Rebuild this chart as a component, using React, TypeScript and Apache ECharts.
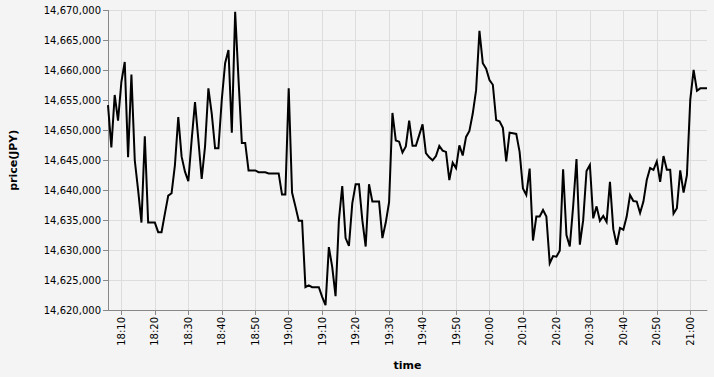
import React, { useEffect, useRef } from "react";
import * as echarts from "echarts";

// Time axis: 1-minute steps starting 18:06
const startTime = "18:06";
const pointCount = 180;

// Prices (JPY), one per minute from 18:06 to 21:05
const prices: number[] = [
  14654200, 14647150, 14655900, 14651600, 14658100, 14661400, 14645500, 14659300, 14645000, 14640000,
  14634600, 14649000, 14634600, 14634600, 14634600, 14633000, 14633000, 14636100, 14639100, 14639500,
  14644200, 14652200, 14645600, 14643100, 14641500, 14648400, 14654700, 14648400, 14641900, 14647300,
  14657000, 14652800, 14647000, 14647000, 14655100, 14661200, 14663400, 14649600, 14669800, 14658500,
  14647900, 14647900, 14643300, 14643300, 14643300, 14643000, 14643000, 14643000, 14642800, 14642800,
  14642800, 14642800, 14639300, 14639300, 14657000, 14639600, 14637300, 14634900, 14634900, 14623800,
  14624100, 14623800, 14623800, 14623800, 14622200, 14620800, 14630500, 14627200, 14622300, 14635000,
  14640700, 14632000, 14630700, 14637800, 14641000, 14641000, 14635000, 14630600, 14641000, 14638100,
  14638100, 14638100, 14632000, 14634600, 14638000, 14652900, 14648300, 14648100, 14646300, 14647300,
  14651600, 14647400, 14647400, 14649200, 14651000, 14646200, 14645500, 14645000, 14645700, 14647400,
  14646600, 14646400, 14641700, 14644600, 14643700, 14647500, 14645800, 14648900, 14649900, 14652800,
  14656700, 14666600, 14661200, 14660300, 14658400, 14657600, 14651700, 14651500, 14650400, 14644800,
  14649600, 14649500, 14649400, 14646400, 14640300, 14639200, 14643600, 14631600, 14635600, 14635600,
  14636700, 14635600, 14627800, 14629000, 14628900, 14629900, 14643500, 14632500, 14630600, 14637300,
  14645200, 14630900, 14635000, 14643200, 14644200, 14635300, 14637300, 14634900, 14635700, 14634700,
  14641400, 14633500, 14630900, 14633700, 14633400, 14635600, 14639200, 14638200, 14638100, 14636200,
  14638100, 14641700, 14643700, 14643400, 14644800, 14641400, 14645700, 14643400, 14643400, 14636100,
  14637000, 14643300, 14639600, 14642500, 14655100, 14660100, 14656600, 14657000, 14657000, 14657000,
];

const yMin = 14620000;
const yMax = 14670000;
const yStep = 5000;

function buildTimes(start: string, n: number): string[] {
  const [h, m] = start.split(":").map(Number);
  const base = h * 60 + m;
  const out: string[] = [];
  for (let i = 0; i < n; i++) {
    const t = base + i;
    const hh = Math.floor(t / 60);
    const mm = t % 60;
    out.push(`${hh}:${mm < 10 ? "0" + mm : mm}`);
  }
  return out;
}

const times = buildTimes(startTime, pointCount);

export default function App() {
  const ref = useRef<HTMLDivElement>(null);
  useEffect(() => {
    if (!ref.current) return;
    const chart = echarts.init(ref.current, undefined, { renderer: "svg" });
    const font = "DejaVu Sans";
    const onTen = (_i: number, v: string) => v.endsWith("0");
    chart.setOption({
      animation: false,
      backgroundColor: "#f4f4f4",
      grid: { left: 107, right: 7, top: 10.5, bottom: 67 },
      xAxis: {
        type: "category",
        data: times,
        boundaryGap: false,
        name: "time",
        nameLocation: "middle",
        nameGap: 50,
        nameTextStyle: { fontFamily: font, fontSize: 11, fontWeight: "bold", color: "#000" },
        axisLine: { show: true, lineStyle: { color: "#888", width: 1 } },
        axisTick: { show: true, interval: onTen, length: 5, lineStyle: { color: "#888" } },
        axisLabel: {
          interval: onTen,
          rotate: 90,
          margin: 7,
          fontFamily: font,
          fontSize: 10,
          color: "#000",
        },
        splitLine: { show: true, interval: onTen, lineStyle: { color: "#ddd", width: 1 } },
      },
      yAxis: {
        type: "value",
        min: yMin,
        max: yMax,
        interval: yStep,
        name: "price(JPY)",
        nameLocation: "middle",
        nameGap: 89,
        nameTextStyle: { fontFamily: font, fontSize: 11, fontWeight: "bold", color: "#000" },
        axisLine: { show: true, lineStyle: { color: "#888", width: 1 } },
        axisTick: { show: true, length: 5, lineStyle: { color: "#888" } },
        axisLabel: {
          margin: 7,
          fontFamily: font,
          fontSize: 10,
          color: "#000",
          formatter: (v: number) => v.toLocaleString("en-US"),
        },
        splitLine: { show: true, lineStyle: { color: "#ddd", width: 1 } },
      },
      series: [
        {
          type: "line",
          data: prices,
          showSymbol: false,
          symbol: "none",
          lineStyle: { color: "#000", width: 2, join: "miter" },
          silent: true,
        },
      ],
    });
    return () => chart.dispose();
  }, []);
  return (
    <div
      ref={ref}
      style={{ position: "fixed", left: 0, top: 0, width: 714, height: 377 }}
    />
  );
}
